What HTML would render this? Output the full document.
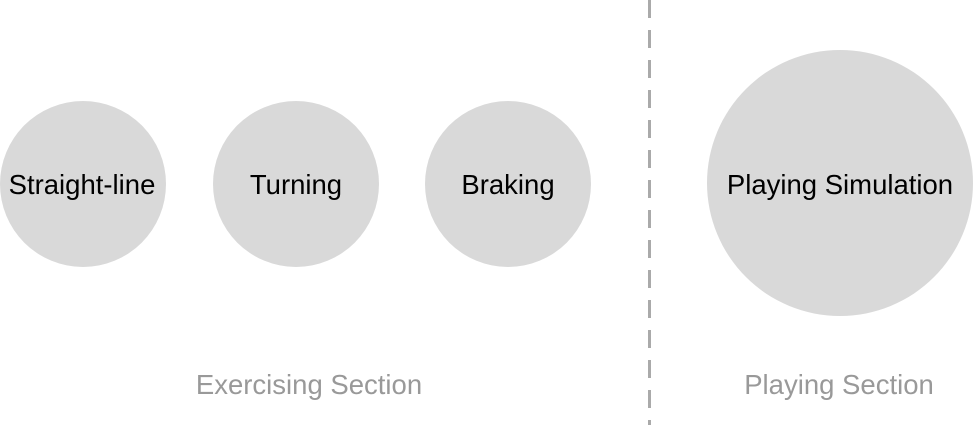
<!DOCTYPE html>
<html><head><meta charset="utf-8"><style>
body{margin:0;background:#fff}
svg{display:block;font-family:"Liberation Sans",sans-serif}
</style></head><body>
<svg width="973" height="425" viewBox="0 0 973 425">
<g>
<circle cx="83" cy="184" r="83" fill="#d9d9d9"/>
<text x="82" y="194" text-anchor="middle" font-size="27.5" fill="#000">Straight-line</text></g>
<g>
<circle cx="296" cy="184" r="83" fill="#d9d9d9"/>
<text x="296" y="194" text-anchor="middle" font-size="27.5" fill="#000">Turning</text></g>
<g>
<circle cx="508" cy="184" r="83" fill="#d9d9d9"/>
<text x="508" y="194" text-anchor="middle" font-size="27.5" fill="#000">Braking</text></g>
<g>
<circle cx="840" cy="183" r="133" fill="#d9d9d9"/>
<text x="840" y="194" text-anchor="middle" font-size="27.5" fill="#000">Playing Simulation</text></g>
<line x1="649.5" y1="0" x2="649.5" y2="425" stroke="#aaa" stroke-width="3" stroke-dasharray="18 12"/>
<text x="309" y="394" text-anchor="middle" font-size="27.5" fill="#999">Exercising Section</text>
<text x="839" y="394" text-anchor="middle" font-size="27.5" fill="#999">Playing Section</text>
</svg>
</body></html>
